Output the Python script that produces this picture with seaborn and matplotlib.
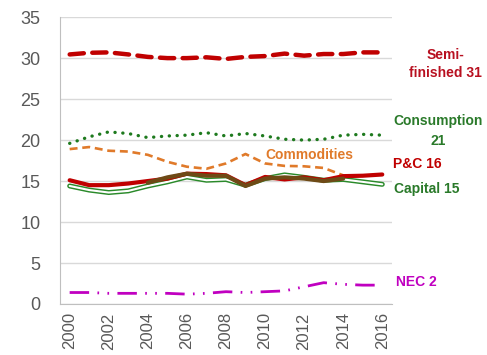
import numpy as np
import pandas as pd
import matplotlib
matplotlib.use("Agg")
import matplotlib.pyplot as plt
import seaborn as sns

# 系列データ
years = list(range(2000, 2017))
semi_finished = [30.45, 30.65, 30.7, 30.45, 30.15, 30.0, 30.0, 30.1, 29.9, 30.15,
                 30.25, 30.55, 30.3, 30.5, 30.5, 30.7, 30.7]
consumption = [19.6, 20.4, 21.0, 20.8, 20.3, 20.5, 20.6, 20.9, 20.5, 20.8,
               20.5, 20.1, 20.0, 20.1, 20.6, 20.7, 20.6]
commodities = [18.9, 19.15, 18.7, 18.6, 18.2, 17.35, 16.75, 16.5, 17.15, 18.3,
               17.15, 16.85, 16.8, 16.6, 15.7, np.nan, np.nan]
p_and_c = [15.1, 14.5, 14.5, 14.7, 15.0, 15.3, 15.9, 15.85, 15.7, 14.5,
           15.5, 15.2, 15.45, 15.1, 15.6, 15.65, 15.8]
capital = [14.4, 13.9, 13.6, 13.8, 14.4, 14.9, 15.5, 15.1, 15.2, 14.5,
           15.3, 15.75, 15.45, 15.1, 15.2, 14.9, 14.6]
other_brown = [np.nan, np.nan, np.nan, np.nan, 14.8, 15.45, 15.9, 15.65, 15.65, 14.4,
               15.3, 15.45, 15.3, 15.0, 15.3, np.nan, np.nan]
nec = [1.4, 1.4, 1.3, 1.3, 1.3, 1.3, 1.2, 1.3, 1.5, 1.4,
       1.5, 1.6, 2.1, 2.6, 2.4, 2.3, 2.3]

x_ticks = list(range(2000, 2017, 2))
y_ticks = list(range(0, 36, 5))

df = pd.DataFrame({'year': years, 'semi': semi_finished, 'cons': consumption,
                   'comm': commodities, 'pc': p_and_c, 'cap': capital,
                   'brown': other_brown, 'nec': nec})

sns.set_style("white")
plt.rcParams['font.family'] = ['Liberation Sans', 'DejaVu Sans']

fig = plt.figure(figsize=(4.87, 3.55), dpi=100)
ax = fig.add_axes([0.123, 0.1437, 0.682, 0.808])

# グリッド
for v in y_ticks:
    ax.axhline(v, color='#d9d9d9', lw=1.0, zorder=0)

# 各系列
sns.lineplot(data=df, x='year', y='semi', ax=ax, color='#c00000', lw=3.2,
             linestyle=(0, (3.2, 1.9)), dash_capstyle='round', zorder=3)
sns.lineplot(data=df, x='year', y='cons', ax=ax, color='#1e7a1e', lw=2.4,
             linestyle=(0, (0.05, 2.3)), dash_capstyle='round', zorder=3)
sns.lineplot(data=df, x='year', y='comm', ax=ax, color='#e07a2a', lw=1.9,
             linestyle=(0, (3.0, 1.8)), zorder=3)
sns.lineplot(data=df, x='year', y='cap', ax=ax, color='#2a8a2a', lw=3.6, zorder=4)
sns.lineplot(data=df, x='year', y='cap', ax=ax, color='white', lw=1.5, zorder=4)
sns.lineplot(data=df, x='year', y='pc', ax=ax, color='#c00000', lw=3.0, zorder=5)
sns.lineplot(data=df, x='year', y='brown', ax=ax, color='#6e4a16', lw=3.0, zorder=6)
sns.lineplot(data=df, x='year', y='nec', ax=ax, color='#c000c0', lw=2.0,
             linestyle=(0, (7, 3, 0.6, 3, 0.6, 3)), zorder=3)

ax.set_xlim(1999.5, 2016.5)
ax.set_ylim(0, 35)
ax.set_xticks(x_ticks)
ax.set_xticks(np.arange(1999.5, 2016.6, 1), minor=True)
ax.set_yticks(y_ticks)
ax.tick_params(axis='x', which='major', length=0, labelsize=12, labelcolor='#595959',
               rotation=90, pad=6)
ax.tick_params(axis='x', which='minor', length=5, color='#bfbfbf', width=1, direction='out')
ax.tick_params(axis='y', length=0, labelsize=13, labelcolor='#595959', pad=14)
ax.set_xlabel('')
ax.set_ylabel('')
for s in ['top', 'right']:
    ax.spines[s].set_visible(False)
ax.spines['left'].set_color('#bfbfbf')
ax.spines['bottom'].set_color('#bfbfbf')

# ラベル
fs = 10
fig.text(445 / 487, 1 - 55 / 355, 'Semi-', color='#b81020', fontsize=fs,
         fontweight='bold', ha='center', va='center')
fig.text(445 / 487, 1 - 73 / 355, 'finished 31', color='#b81020', fontsize=fs,
         fontweight='bold', ha='center', va='center')
fig.text(438 / 487, 1 - 121 / 355, 'Consumption', color='#2a7a2a', fontsize=fs,
         fontweight='bold', ha='center', va='center')
fig.text(438 / 487, 1 - 141 / 355, '21', color='#2a7a2a', fontsize=fs,
         fontweight='bold', ha='center', va='center')
fig.text(309 / 487, 1 - 155 / 355, 'Commodities', color='#e07a2a', fontsize=fs,
         fontweight='bold', ha='center', va='center')
fig.text(393 / 487, 1 - 164 / 355, 'P&C 16', color='#c00000', fontsize=fs,
         fontweight='bold', ha='left', va='center')
fig.text(394 / 487, 1 - 189 / 355, 'Capital 15', color='#2a7a2a', fontsize=fs,
         fontweight='bold', ha='left', va='center')
fig.text(396 / 487, 1 - 282 / 355, 'NEC 2', color='#c000c0', fontsize=fs,
         fontweight='bold', ha='left', va='center')

fig.savefig('out.png', dpi=100)
